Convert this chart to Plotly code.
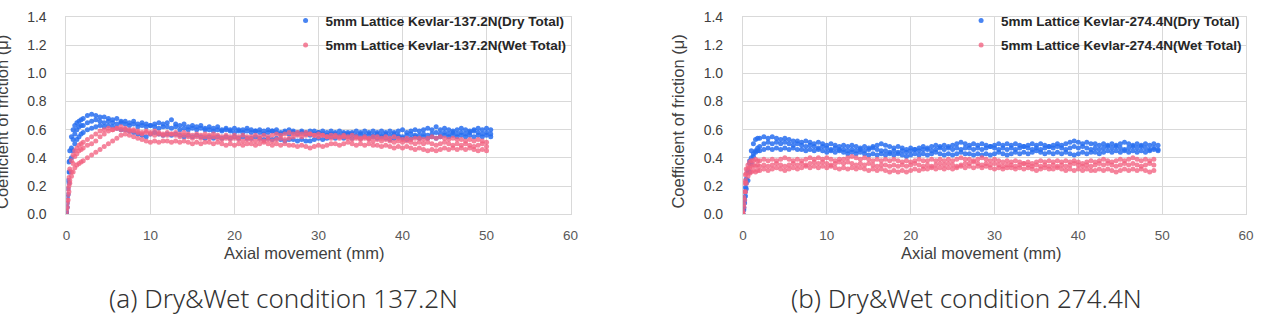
import plotly.graph_objects as go

# ---------------- data ----------------
# shared axial-movement sampling grid (mm)
X = [0, 0.1, 0.2, 0.3, 0.4, 0.6, 0.8, 1.0, 1.25, 1.5, 1.75,
     2.0, 2.5, 3.0, 3.5, 4.0, 4.5, 5.0, 5.5, 6.0, 6.5,
     7.0, 7.5, 8.0, 8.5, 9.0, 9.5, 10.0, 10.5, 11.0, 11.5,
     12.0, 12.5, 13.0, 13.5, 14.0, 14.5, 15.0, 15.5, 16.0, 16.5,
     17.0, 17.5, 18.0, 18.5, 19.0, 19.5, 20.0, 20.5, 21.0, 21.5,
     22.0, 22.5, 23.0, 23.5, 24.0, 24.5, 25.0, 25.5, 26.0, 26.5,
     27.0, 27.5, 28.0, 28.5, 29.0, 29.5, 30.0, 30.5, 31.0, 31.5,
     32.0, 32.5, 33.0, 33.5, 34.0, 34.5, 35.0, 35.5, 36.0, 36.5,
     37.0, 37.5, 38.0, 38.5, 39.0, 39.5, 40.0, 40.5, 41.0, 41.5,
     42.0, 42.5, 43.0, 43.5, 44.0, 44.5, 45.0, 45.5, 46.0, 46.5,
     47.0, 47.5, 48.0, 48.5, 49.0, 49.5, 50.0, 50.5]

# (a) 137.2 N - dry runs
dry137_run1 = [0.02, 0.12, 0.24, 0.37, 0.45, 0.55, 0.6, 0.63, 0.65, 0.66, 0.67,
               0.68, 0.7, 0.71, 0.7, 0.69, 0.69, 0.68, 0.67, 0.68, 0.66,
               0.66, 0.65, 0.66, 0.64, 0.65, 0.64, 0.63, 0.64, 0.65, 0.64,
               0.65, 0.67, 0.64, 0.63, 0.64, 0.62, 0.63, 0.62, 0.63, 0.61,
               0.62, 0.61, 0.62, 0.6, 0.61, 0.6, 0.61, 0.6, 0.6, 0.61,
               0.6, 0.59, 0.6, 0.59, 0.6, 0.59, 0.6, 0.58, 0.59, 0.6,
               0.59, 0.58, 0.59, 0.58, 0.59, 0.59, 0.58, 0.59, 0.58, 0.59,
               0.58, 0.59, 0.58, 0.57, 0.58, 0.59, 0.58, 0.59, 0.58, 0.59,
               0.58, 0.59, 0.58, 0.59, 0.58, 0.59, 0.6, 0.58, 0.59, 0.6,
               0.59, 0.6, 0.61, 0.6, 0.62, 0.6, 0.61, 0.6, 0.59, 0.6,
               0.61, 0.6, 0.59, 0.6, 0.61, 0.6, 0.61, 0.6]
dry137_run2 = [0.01, 0.08, 0.18, 0.3, 0.38, 0.47, 0.53, 0.57, 0.6, 0.62, 0.63,
               0.63, 0.65, 0.66, 0.67, 0.66, 0.65, 0.66, 0.65, 0.64, 0.65,
               0.64, 0.63, 0.64, 0.62, 0.63, 0.62, 0.63, 0.62, 0.61, 0.62,
               0.62, 0.61, 0.62, 0.6, 0.61, 0.6, 0.61, 0.6, 0.61, 0.6,
               0.6, 0.59, 0.6, 0.59, 0.6, 0.59, 0.58, 0.59, 0.58, 0.59,
               0.58, 0.59, 0.58, 0.57, 0.58, 0.59, 0.58, 0.57, 0.58, 0.57,
               0.58, 0.57, 0.58, 0.57, 0.56, 0.57, 0.58, 0.57, 0.56, 0.57,
               0.57, 0.56, 0.57, 0.58, 0.57, 0.56, 0.57, 0.56, 0.57, 0.56,
               0.57, 0.56, 0.57, 0.56, 0.57, 0.56, 0.55, 0.56, 0.57, 0.56,
               0.56, 0.57, 0.56, 0.57, 0.58, 0.57, 0.58, 0.57, 0.58, 0.57,
               0.58, 0.57, 0.58, 0.59, 0.58, 0.57, 0.58, 0.57]
dry137_run3 = [0.0, 0.05, 0.14, 0.22, 0.3, 0.4, 0.45, 0.5, 0.53, 0.55, 0.57,
               0.58, 0.6, 0.61, 0.62, 0.63, 0.62, 0.63, 0.62, 0.61, 0.6,
               0.6, 0.59, 0.58, 0.57, 0.56, 0.55, 0.57, 0.58, 0.57, 0.56,
               0.57, 0.56, 0.57, 0.56, 0.55, 0.56, 0.55, 0.56, 0.55, 0.54,
               0.55, 0.54, 0.55, 0.54, 0.55, 0.54, 0.55, 0.54, 0.55, 0.54,
               0.54, 0.55, 0.54, 0.53, 0.54, 0.53, 0.54, 0.53, 0.52, 0.53,
               0.53, 0.52, 0.53, 0.52, 0.52, 0.53, 0.54, 0.53, 0.54, 0.55,
               0.54, 0.55, 0.54, 0.55, 0.54, 0.55, 0.54, 0.55, 0.54, 0.55,
               0.54, 0.55, 0.54, 0.53, 0.54, 0.55, 0.54, 0.53, 0.54, 0.55,
               0.54, 0.55, 0.54, 0.55, 0.54, 0.55, 0.56, 0.55, 0.56, 0.55,
               0.56, 0.55, 0.56, 0.55, 0.56, 0.55, 0.56, 0.55]

# (a) 137.2 N - wet runs
wet137_run1 = [0.0, 0.05, 0.1, 0.16, 0.22, 0.3, 0.36, 0.41, 0.43, 0.45, 0.46,
               0.47, 0.49, 0.5, 0.52, 0.55, 0.57, 0.59, 0.6, 0.61, 0.62,
               0.61, 0.6, 0.59, 0.58, 0.57, 0.58, 0.57, 0.56, 0.57, 0.56,
               0.56, 0.57, 0.56, 0.55, 0.56, 0.55, 0.54, 0.55, 0.54, 0.55,
               0.54, 0.55, 0.54, 0.53, 0.54, 0.53, 0.54, 0.53, 0.52, 0.53,
               0.53, 0.52, 0.53, 0.52, 0.53, 0.52, 0.53, 0.54, 0.53, 0.54,
               0.55, 0.56, 0.55, 0.56, 0.57, 0.56, 0.55, 0.56, 0.55, 0.54,
               0.55, 0.54, 0.55, 0.54, 0.53, 0.54, 0.53, 0.54, 0.53, 0.52,
               0.53, 0.52, 0.53, 0.52, 0.51, 0.52, 0.51, 0.52, 0.51, 0.5,
               0.51, 0.5, 0.51, 0.5, 0.49, 0.5, 0.51, 0.5, 0.49, 0.5,
               0.49, 0.5, 0.49, 0.48, 0.49, 0.5, 0.48]
wet137_run2 = [0.02, 0.08, 0.14, 0.2, 0.24, 0.27, 0.3, 0.33, 0.35, 0.36, 0.37,
               0.38, 0.4, 0.42, 0.44, 0.46, 0.48, 0.5, 0.52, 0.54, 0.56,
               0.57, 0.56, 0.55, 0.54, 0.53, 0.52, 0.51, 0.52, 0.51, 0.52,
               0.52, 0.51, 0.52, 0.51, 0.52, 0.51, 0.5, 0.51, 0.5, 0.51,
               0.51, 0.5, 0.51, 0.5, 0.49, 0.5, 0.49, 0.5, 0.49, 0.5,
               0.5, 0.49, 0.5, 0.51, 0.5, 0.49, 0.5, 0.49, 0.5, 0.49,
               0.49, 0.48, 0.49, 0.48, 0.47, 0.48, 0.49, 0.48, 0.49, 0.5,
               0.5, 0.49, 0.5, 0.51, 0.5, 0.49, 0.5, 0.49, 0.5, 0.49,
               0.49, 0.48, 0.49, 0.48, 0.47, 0.48, 0.47, 0.48, 0.47, 0.46,
               0.47, 0.46, 0.45, 0.46, 0.45, 0.46, 0.47, 0.46, 0.47, 0.46,
               0.47, 0.46, 0.47, 0.46, 0.45, 0.46, 0.45]
wet137_run3 = [0.04, 0.1, 0.18, 0.26, 0.32, 0.38, 0.42, 0.45, 0.47, 0.49, 0.5,
               0.51, 0.53, 0.55, 0.57, 0.59, 0.6, 0.61, 0.6, 0.61, 0.6,
               0.6, 0.59, 0.6, 0.59, 0.58, 0.59, 0.58, 0.59, 0.58, 0.57,
               0.58, 0.57, 0.58, 0.57, 0.58, 0.57, 0.56, 0.57, 0.56, 0.57,
               0.56, 0.57, 0.56, 0.55, 0.56, 0.55, 0.56, 0.55, 0.56, 0.55,
               0.55, 0.56, 0.55, 0.56, 0.55, 0.56, 0.57, 0.56, 0.57, 0.58,
               0.57, 0.58, 0.57, 0.58, 0.57, 0.56, 0.57, 0.56, 0.55, 0.56,
               0.56, 0.55, 0.56, 0.55, 0.56, 0.55, 0.54, 0.55, 0.54, 0.55,
               0.55, 0.54, 0.55, 0.54, 0.55, 0.54, 0.53, 0.54, 0.53, 0.54,
               0.54, 0.53, 0.54, 0.55, 0.54, 0.55, 0.54, 0.53, 0.54, 0.53,
               0.53, 0.52, 0.53, 0.52, 0.53, 0.52, 0.51]

# (b) 274.4 N - dry runs
dry274_run1 = [0.0, 0.04, 0.1, 0.16, 0.22, 0.3, 0.38, 0.45, 0.5, 0.53, 0.54,
               0.54, 0.55, 0.54, 0.55, 0.54, 0.53, 0.54, 0.53, 0.52, 0.52,
               0.51, 0.52, 0.51, 0.5, 0.51, 0.5, 0.49, 0.5, 0.49, 0.48,
               0.49, 0.48, 0.49, 0.48, 0.47, 0.48, 0.47, 0.48, 0.49, 0.5,
               0.49, 0.48, 0.47, 0.48, 0.47, 0.46, 0.47, 0.46, 0.47, 0.48,
               0.47, 0.48, 0.49, 0.48, 0.49, 0.48, 0.49, 0.5, 0.51, 0.5,
               0.49, 0.5, 0.49, 0.5, 0.49, 0.48, 0.49, 0.5, 0.49, 0.5,
               0.49, 0.5, 0.49, 0.48, 0.49, 0.5, 0.49, 0.5, 0.49, 0.48,
               0.49, 0.5, 0.49, 0.5, 0.51, 0.52, 0.51, 0.5, 0.51, 0.5,
               0.5, 0.49, 0.5, 0.49, 0.5, 0.49, 0.5, 0.51, 0.5, 0.49,
               0.5, 0.49, 0.5, 0.49, 0.5, 0.49]
dry274_run2 = [0.0, 0.03, 0.08, 0.13, 0.18, 0.24, 0.3, 0.36, 0.41, 0.45, 0.47,
               0.48, 0.5, 0.51, 0.5, 0.51, 0.5, 0.51, 0.5, 0.49, 0.5,
               0.49, 0.48, 0.49, 0.48, 0.47, 0.48, 0.47, 0.46, 0.47, 0.46,
               0.46, 0.45, 0.46, 0.45, 0.46, 0.45, 0.46, 0.47, 0.46, 0.45,
               0.45, 0.44, 0.45, 0.44, 0.45, 0.44, 0.45, 0.46, 0.45, 0.46,
               0.46, 0.45, 0.46, 0.47, 0.46, 0.47, 0.46, 0.47, 0.46, 0.47,
               0.47, 0.46, 0.47, 0.46, 0.47, 0.48, 0.47, 0.46, 0.47, 0.46,
               0.47, 0.46, 0.47, 0.48, 0.47, 0.46, 0.47, 0.46, 0.47, 0.48,
               0.47, 0.48, 0.47, 0.46, 0.47, 0.48, 0.47, 0.48, 0.47, 0.46,
               0.47, 0.46, 0.47, 0.48, 0.47, 0.48, 0.47, 0.46, 0.47, 0.48,
               0.47, 0.48, 0.47, 0.46, 0.47, 0.46]
dry274_run3 = [0.0, 0.05, 0.12, 0.19, 0.25, 0.31, 0.36, 0.4, 0.43, 0.44, 0.45,
               0.45, 0.46, 0.47, 0.46, 0.47, 0.46, 0.47, 0.46, 0.47, 0.46,
               0.46, 0.45, 0.46, 0.45, 0.46, 0.45, 0.44, 0.45, 0.44, 0.45,
               0.44, 0.43, 0.44, 0.43, 0.44, 0.43, 0.42, 0.43, 0.42, 0.43,
               0.42, 0.43, 0.42, 0.43, 0.42, 0.41, 0.42, 0.43, 0.42, 0.43,
               0.42, 0.43, 0.44, 0.43, 0.42, 0.43, 0.42, 0.43, 0.44, 0.43,
               0.43, 0.42, 0.43, 0.42, 0.43, 0.42, 0.43, 0.44, 0.43, 0.42,
               0.43, 0.44, 0.43, 0.44, 0.43, 0.44, 0.45, 0.44, 0.43, 0.44,
               0.43, 0.44, 0.43, 0.44, 0.43, 0.42, 0.43, 0.44, 0.43, 0.44,
               0.44, 0.43, 0.44, 0.45, 0.44, 0.45, 0.44, 0.45, 0.44, 0.45,
               0.44, 0.45, 0.44, 0.45, 0.46, 0.45]

# (b) 274.4 N - wet runs
wet274_run1 = [0.01, 0.12, 0.22, 0.28, 0.32, 0.35, 0.37, 0.38, 0.38, 0.39, 0.38,
               0.38, 0.39, 0.38, 0.39, 0.38, 0.39, 0.4, 0.39, 0.38, 0.39,
               0.38, 0.39, 0.4, 0.39, 0.4, 0.39, 0.4, 0.39, 0.38, 0.39,
               0.39, 0.4, 0.41, 0.4, 0.39, 0.4, 0.39, 0.38, 0.39, 0.38,
               0.39, 0.38, 0.39, 0.38, 0.37, 0.38, 0.37, 0.38, 0.39, 0.38,
               0.38, 0.39, 0.38, 0.39, 0.38, 0.39, 0.38, 0.39, 0.4, 0.39,
               0.39, 0.38, 0.39, 0.4, 0.39, 0.38, 0.39, 0.38, 0.37, 0.38,
               0.37, 0.38, 0.37, 0.36, 0.37, 0.36, 0.37, 0.38, 0.37, 0.38,
               0.37, 0.38, 0.37, 0.38, 0.37, 0.38, 0.37, 0.36, 0.37, 0.38,
               0.37, 0.38, 0.39, 0.38, 0.37, 0.38, 0.39, 0.38, 0.39, 0.4,
               0.39, 0.38, 0.39, 0.38, 0.39]
wet274_run2 = [0.0, 0.07, 0.16, 0.24, 0.29, 0.32, 0.33, 0.34, 0.35, 0.34, 0.35,
               0.34, 0.35, 0.34, 0.35, 0.36, 0.35, 0.34, 0.35, 0.36, 0.35,
               0.36, 0.35, 0.36, 0.37, 0.36, 0.37, 0.36, 0.35, 0.36, 0.37,
               0.36, 0.37, 0.36, 0.35, 0.36, 0.35, 0.36, 0.35, 0.34, 0.35,
               0.35, 0.34, 0.35, 0.34, 0.35, 0.34, 0.35, 0.36, 0.35, 0.34,
               0.35, 0.34, 0.35, 0.36, 0.35, 0.36, 0.35, 0.34, 0.35, 0.36,
               0.36, 0.37, 0.36, 0.35, 0.36, 0.35, 0.36, 0.35, 0.34, 0.35,
               0.35, 0.34, 0.35, 0.36, 0.35, 0.34, 0.35, 0.34, 0.35, 0.34,
               0.35, 0.34, 0.35, 0.34, 0.35, 0.36, 0.35, 0.34, 0.35, 0.34,
               0.35, 0.36, 0.35, 0.36, 0.35, 0.34, 0.35, 0.36, 0.35, 0.36,
               0.35, 0.34, 0.35, 0.36, 0.35]
wet274_run3 = [0.02, 0.05, 0.1, 0.16, 0.22, 0.27, 0.29, 0.3, 0.31, 0.3, 0.31,
               0.31, 0.32, 0.31, 0.32, 0.33, 0.32, 0.31, 0.32, 0.33, 0.32,
               0.33, 0.34, 0.33, 0.34, 0.33, 0.34, 0.33, 0.34, 0.33, 0.32,
               0.33, 0.32, 0.33, 0.32, 0.33, 0.32, 0.31, 0.32, 0.31, 0.32,
               0.31, 0.3, 0.31, 0.3, 0.31, 0.3, 0.31, 0.32, 0.31, 0.32,
               0.32, 0.33, 0.32, 0.33, 0.32, 0.33, 0.32, 0.33, 0.34, 0.33,
               0.34, 0.33, 0.34, 0.33, 0.34, 0.33, 0.32, 0.33, 0.32, 0.33,
               0.33, 0.32, 0.33, 0.32, 0.33, 0.32, 0.31, 0.32, 0.33, 0.32,
               0.32, 0.33, 0.32, 0.31, 0.32, 0.31, 0.32, 0.31, 0.32, 0.31,
               0.31, 0.32, 0.31, 0.32, 0.31, 0.3, 0.31, 0.32, 0.31, 0.32,
               0.31, 0.32, 0.31, 0.3, 0.31]

x_ticks = [0, 10, 20, 30, 40, 50, 60]
y_ticks = [0.0, 0.2, 0.4, 0.6, 0.8, 1.0, 1.2, 1.4]

legend_a = ["5mm Lattice Kevlar-137.2N(Dry Total)", "5mm Lattice Kevlar-137.2N(Wet Total)"]
legend_b = ["5mm Lattice Kevlar-274.4N(Dry Total)", "5mm Lattice Kevlar-274.4N(Wet Total)"]
captions = ["(a) Dry&Wet condition 137.2N", "(b) Dry&Wet condition 274.4N"]
x_title = "Axial movement (mm)"
y_title = "Coefficient of friction (μ)"

# ---------------- style ----------------
W, H = 1265, 321
BLUE = "rgba(40,110,240,0.85)"
PINK = "rgba(242,98,128,0.78)"
GRID = "#d9d9d9"

fig = go.Figure()

panels = [
    ("x", "y", "legend", legend_a,
     [dry137_run1, dry137_run2, dry137_run3], [wet137_run1, wet137_run2, wet137_run3]),
    ("x2", "y2", "legend2", legend_b,
     [dry274_run1, dry274_run2, dry274_run3], [wet274_run1, wet274_run2, wet274_run3]),
]

for xa, ya, lg, names, dry_runs, wet_runs in panels:
    for k, (runs, color, name) in enumerate([(dry_runs, BLUE, names[0]), (wet_runs, PINK, names[1])]):
        for j, ys in enumerate(runs):
            fig.add_trace(go.Scatter(
                x=X[:len(ys)], y=ys, mode="markers", xaxis=xa, yaxis=ya,
                marker=dict(size=5, color=color, line=dict(width=0)),
                name=name, legend=lg, legendgroup=lg + str(k),
                showlegend=(j == 0),
            ))

def px_x(p):
    return p / W

def px_y(p):
    return 1 - p / H

ydom = [px_y(217), px_y(9.5)]
axis_common = dict(showgrid=True, gridcolor=GRID, gridwidth=1, zeroline=False,
                   showline=True, linecolor=GRID, linewidth=1, mirror=True)
tick_font = dict(family="Liberation Sans, Arial, sans-serif", size=13.5, color="#595959")

fig.update_layout(
    width=W, height=H, margin=dict(l=0, r=0, t=0, b=0),
    paper_bgcolor="white", plot_bgcolor="white", showlegend=True,
    xaxis=dict(domain=[px_x(63), px_x(572)], range=[0, 60], tickvals=x_ticks,
               ticks="outside", ticklen=9, tickcolor="rgba(0,0,0,0)",
               tickfont=tick_font, anchor="y", **axis_common),
    yaxis=dict(domain=ydom, range=[0, 1.4], tickvals=y_ticks, tickformat=".1f",
               ticks="outside", ticklen=16, tickcolor="rgba(0,0,0,0)",
               tickfont=dict(tick_font, size=14, color="#404040"), anchor="x", **axis_common),
    xaxis2=dict(domain=[px_x(746), px_x(1254)], range=[0, 60], tickvals=x_ticks,
                ticks="outside", ticklen=9, tickcolor="rgba(0,0,0,0)",
                tickfont=tick_font, anchor="y2", **axis_common),
    yaxis2=dict(domain=ydom, range=[0, 1.4], tickvals=y_ticks, tickformat=".1f",
                ticks="outside", ticklen=16, tickcolor="rgba(0,0,0,0)",
                tickfont=dict(tick_font, size=14, color="#404040"), anchor="x2", **axis_common),
)

leg_common = dict(xanchor="right", yanchor="top", bgcolor="rgba(255,255,255,0)",
                  font=dict(family="Liberation Sans, Arial, sans-serif", size=13.5,
                            color="#262626", weight="bold"),
                  itemwidth=30, tracegroupgap=4, traceorder="grouped")
fig.update_layout(
    legend=dict(x=px_x(573), y=px_y(-3), **leg_common),
    legend2=dict(x=px_x(1255), y=px_y(-3), **leg_common),
)

title_font = dict(family="Liberation Sans, Arial, sans-serif", size=16.5, color="#404040")
cap_font = dict(family="Noto Sans, Open Sans, sans-serif", size=26, color="#333333", weight=300)
ann = [
    dict(text=x_title, x=px_x(303), y=px_y(258), xref="paper", yref="paper",
         xanchor="center", yanchor="middle", showarrow=False, font=title_font),
    dict(text=x_title, x=px_x(986), y=px_y(258), xref="paper", yref="paper",
         xanchor="center", yanchor="middle", showarrow=False, font=title_font),
    dict(text=y_title, x=px_x(-2), y=px_y(120), xref="paper", yref="paper",
         xanchor="center", yanchor="middle", showarrow=False, textangle=-90, font=title_font),
    dict(text=y_title, x=px_x(680), y=px_y(120), xref="paper", yref="paper",
         xanchor="center", yanchor="middle", showarrow=False, textangle=-90, font=title_font),
    dict(text=captions[0], x=px_x(282.5), y=px_y(305), xref="paper", yref="paper",
         xanchor="center", yanchor="middle", showarrow=False, font=cap_font),
    dict(text=captions[1], x=px_x(971.5), y=px_y(305), xref="paper", yref="paper",
         xanchor="center", yanchor="middle", showarrow=False, font=cap_font),
]
fig.update_layout(annotations=ann)

fig.write_html("out.html")
